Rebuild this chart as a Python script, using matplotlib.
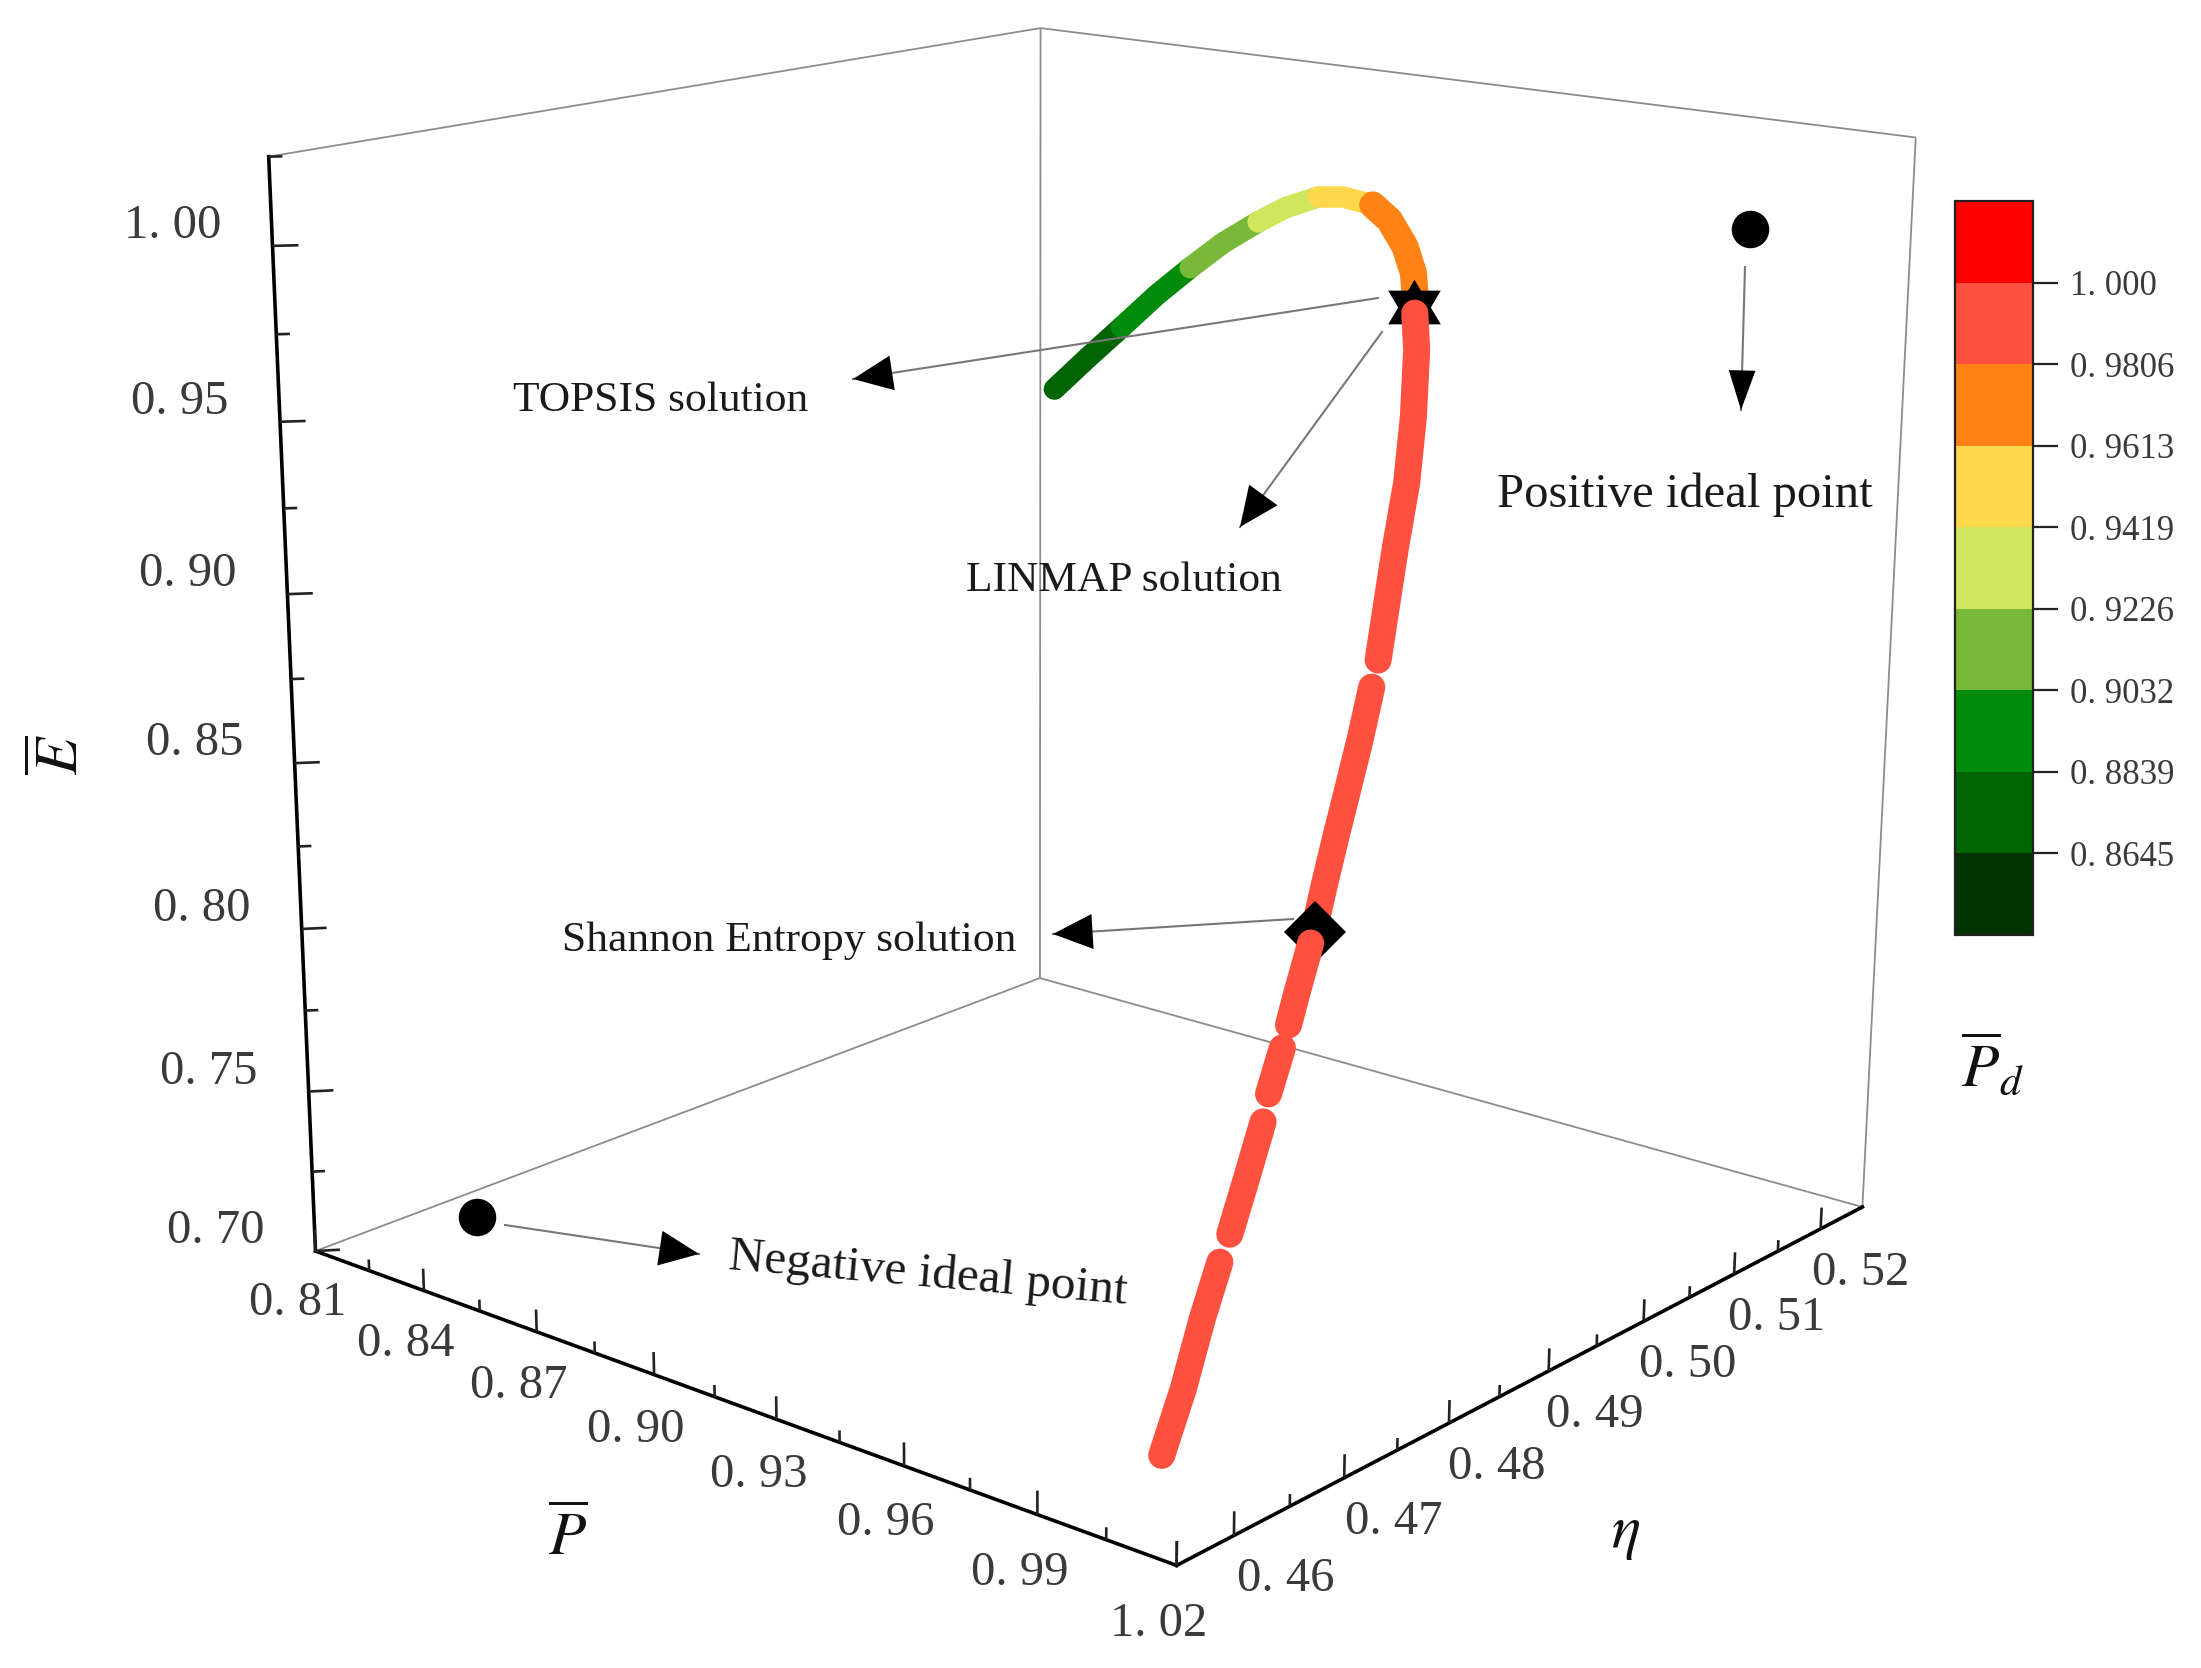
import numpy as np, matplotlib
matplotlib.use('Agg')
import matplotlib.pyplot as plt
from matplotlib.colors import ListedColormap, BoundaryNorm
from matplotlib.cm import ScalarMappable
from matplotlib.path import Path

# ---------- data ----------
P = [0.9057,0.9065,0.9074, 0.9074,0.9081,0.9090, 0.9090,0.9101,0.9120, 0.9120,0.9139,0.9168,
     0.9168,0.9203,0.9258, 0.9258,0.9305,0.9365,0.9412,0.9441,
     0.9466,0.9514,0.9585,0.9646,0.9691,0.9707,0.9738,0.9769,
     0.9783,0.9809,0.9832,0.9852,0.9871,0.9884,
     0.9891,0.9895,0.9905,0.9915, 0.9921,0.9932, 0.9942,0.9955,0.9965,
     0.9968,0.9977,0.9990,0.9998]
ETA = [0.4892,0.4920,0.4949, 0.4949,0.4980,0.5009, 0.5009,0.5037,0.5064, 0.5064,0.5085,0.5105,
       0.5105,0.5115,0.5122, 0.5122,0.5119,0.5109,0.5097,0.5086,
       0.5075,0.5056,0.5022,0.4989,0.4959,0.4949,0.4929,0.4909,
       0.4897,0.4875,0.4853,0.4835,0.4816,0.4803,
       0.4795,0.4790,0.4777,0.4765, 0.4757,0.4740, 0.4731,0.4711,0.4692,
       0.4682,0.4663,0.4641,0.4619]
E = [0.9543,0.9614,0.9685, 0.9685,0.9759,0.9821, 0.9821,0.9878,0.9926, 0.9926,0.9960,0.9983,
     0.9983,0.9983,0.9965, 0.9965,0.9930,0.9869,0.9809,0.9763,
     0.9717,0.9633,0.9479,0.9328,0.9182,0.9136,0.9030,0.8923,
     0.8861,0.8740,0.8618,0.8527,0.8412,0.8327,
     0.8275,0.8243,0.8163,0.8087, 0.8034,0.7929, 0.7865,0.7737,0.7608,
     0.7544,0.7416,0.7253,0.7102]
PD = [0.866,0.872,0.882, 0.885,0.893,0.902, 0.905,0.912,0.921, 0.924,0.931,0.940,
      0.943,0.950,0.960, 0.962,0.966,0.971,0.976,0.980,
      0.981,0.982,0.983,0.984,0.985,0.986,0.987,0.988,
      0.989,0.990,0.991,0.992,0.993,0.994,
      0.994,0.995,0.995,0.996, 0.996,0.997, 0.997,0.998,0.998,
      0.998,0.999,0.999,0.999]
RUN = [0]*3+[1]*3+[2]*3+[3]*3+[4]*3+[5]*5+[6]*8+[7]*6+[8]*4+[9]*2+[10]*3+[11]*4

POS_IDEAL = (1.0001, 0.5173, 1.0)
NEG_IDEAL = (0.8204, 0.4656, 0.70)
TOPSIS_LINMAP = (0.9456, 0.5079, 0.973)
SHANNON = (0.9888, 0.4800, 0.83)

P_TICKS = [0.81,0.84,0.87,0.90,0.93,0.96,0.99,1.02]
ETA_TICKS = [0.46,0.47,0.48,0.49,0.50,0.51,0.52]
E_TICKS = [0.70,0.75,0.80,0.85,0.90,0.95,1.00]
P_MINOR = [0.825,0.855,0.885,0.915,0.945,0.975,1.005]
ETA_MINOR = [0.465,0.475,0.485,0.495,0.505,0.515]
E_MINOR = [0.725,0.775,0.825,0.875,0.925,0.975,1.025]
P_LIM = (0.81,1.02); ETA_LIM = (0.455,0.525); E_LIM = (0.70,1.025)
PD_LEVELS = [0.8452,0.8645,0.8839,0.9032,0.9226,0.9419,0.9613,0.9806,1.000,1.0194]
PD_COLORS = ['#003300','#006400','#008c0a','#7ab83a','#d0e65c','#ffd84d','#ff8214','#ff5040','#ff0000']

W,H = 2201,1668
SERIF = 'Liberation Serif'
plt.rcParams['mathtext.fontset'] = 'stix'

# ---------- camera: fitted to the box corners of the picture ----------
cal=[(.81,.455,.70,316,1251),(1.02,.455,.70,1176,1566),(1.02,.525,.70,1862,1207),(.81,.525,.70,1040,978),
(.81,.455,1.025,268,156),(.81,.525,1.025,1040,28),(1.02,.525,1.025,1916,138),
(.81,.455,1.0,273,246),(.81,.455,.95,281,422),(.81,.455,.90,287,594),(.81,.455,.85,295,763),(.81,.455,.80,302,929),(.81,.455,.75,308,1092),
(.90,.455,.70,654,1375),(.96,.455,.70,903,1467),(.99,.455,.70,1038,1513),(1.02,.49,.70,1549.5,1370),(1.02,.47,.70,1344,1478),(1.02,.52,.70,1821,1229)]
A=[];b=[]
for X,Y,Z,u,v in cal:
    A.append([X,Y,Z,1,0,0,0,0,-u*X,-u*Y,-u*Z]);b.append(u)
    A.append([0,0,0,0,X,Y,Z,1,-v*X,-v*Y,-v*Z]);b.append(v)
s=np.linalg.lstsq(np.array(A,float),np.array(b,float),rcond=None)[0]
C=np.append(s,1).reshape(3,4)
sgn=np.sign(C[2]@[.9,.49,.85,1.0])
M=np.vstack([2/W*C[0]-C[2], C[2]-2/H*C[1], [0,0,0,-sgn], C[2]])

def pix(x,y,z):
    q=C@np.array([x,y,z,1.0])
    return q[0]/q[2],q[1]/q[2]

fig=plt.figure(figsize=(W/100,H/100),dpi=100,facecolor='white')
ax=fig.add_axes([0,0,1,1],projection='3d',computed_zorder=False)
ax.set_axis_off()
ax.patch.set_alpha(0)
ax.get_proj=lambda: M
ax.apply_aspect=lambda position=None: None
ax.viewLim.intervalx=(-1,1)
ax.viewLim.intervaly=(-1,1)

def seg(a,b,**kw):
    ax.plot([a[0],b[0]],[a[1],b[1]],[a[2],b[2]],**kw)

P0,P1=P_LIM;N0,N1=ETA_LIM;E0,E1=E_LIM
thin=dict(color='#8c8c8c',lw=1.3,zorder=1,solid_capstyle='butt')
for a,b_ in [((P0,N0,E0),(P0,N1,E0)),((P0,N1,E0),(P1,N1,E0)),((P0,N1,E0),(P0,N1,E1)),
             ((P1,N1,E0),(P1,N1,E1)),((P0,N0,E1),(P0,N1,E1)),((P0,N1,E1),(P1,N1,E1))]:
    seg(a,b_,**thin)
thick=dict(color='black',lw=2.6,zorder=2,solid_capstyle='projecting')
seg((P0,N0,E0),(P1,N0,E0),**thick)
seg((P1,N0,E0),(P1,N1,E0),**thick)
seg((P0,N0,E0),(P0,N0,E1),**thick)

tick=dict(color='#222222',lw=1.9,zorder=2,solid_capstyle='butt')
dz=0.0068; dzm=0.0035
for t in P_TICKS: seg((t,N0,E0),(t,N0,E0+dz),**tick)
for t in P_MINOR: seg((t,N0,E0),(t,N0,E0+dzm),**tick)
for t in ETA_TICKS+[N0]: seg((P1,t,E0),(P1,t,E0+dz),**tick)
for t in ETA_MINOR: seg((P1,t,E0),(P1,t,E0+dzm),**tick)
for t in E_TICKS: seg((P0,N0,t),(P0+0.0030,N0+0.00115,t),**tick)
for t in E_MINOR: seg((P0,N0,t),(P0+0.0016,N0+0.0006,t),**tick)

# ---------- curve ----------
cmap=ListedColormap(PD_COLORS); norm=BoundaryNorm(PD_LEVELS,cmap.N)
P_a,ETA_a,E_a,PD_a,RUN_a=map(np.array,(P,ETA,E,PD,RUN))
def draw_run(r,z):
    m=RUN_a==r
    ax.plot(P_a[m],ETA_a[m],E_a[m],color=cmap(norm(PD_a[m].mean())),lw=15.5 if r<5 else 19.5,
            solid_capstyle='round',solid_joinstyle='round',zorder=z)
hexagram=Path([(0,28),(-26.5,-17),(26.5,-17),(0,28),(0,-28),(26.5,17),(-26.5,17),(0,-28)],
              [Path.MOVETO,Path.LINETO,Path.LINETO,Path.CLOSEPOLY,Path.MOVETO,Path.LINETO,Path.LINETO,Path.CLOSEPOLY])
for r in range(6): draw_run(r,3)
ax.plot(*[[c] for c in TOPSIS_LINMAP],marker=hexagram,ms=40,color='black',mew=0,ls='none',zorder=4)
for r in (6,7): draw_run(r,5)
ax.plot(*[[c] for c in SHANNON],marker='D',ms=32,color='black',mew=0,ls='none',zorder=6)
for r in (8,9,10,11): draw_run(r,7)
for pt in (POS_IDEAL,NEG_IDEAL):
    ax.plot(*[[c] for c in pt],marker='o',ms=27,color='black',mew=0,ls='none',zorder=8)

# ---------- overlay in picture pixels for labels and arrows ----------
ov=fig.add_axes([0,0,1,1]); ov.set_xlim(0,W); ov.set_ylim(H,0); ov.axis('off'); ov.patch.set_alpha(0)
lab=dict(family=SERIF,color='#3a3a3a',fontsize=35,ha='center',va='center')
for t in E_TICKS:
    u,v=pix(P0,N0,t); ov.text(u-100,v-20,f'{t:.2f}'.replace('.','. '),**lab)
for t in P_TICKS:
    u,v=pix(t,N0,E0); ov.text(u-18,v+52+(t-.81)/.21*7,f'{t:.2f}'.replace('.','. '),**lab)
for t in ETA_TICKS:
    u,v=pix(P1,t,E0); ov.text(u+52-(t-.46)/.06*12,v+44,f'{t:.2f}'.replace('.','. '),**lab)

ARROWS=[(1378,298,853,379,.42),(1382,332,1240,527,.42),(1293,919,1053,934,.42),(1745,267,1741,410,.32),(505,1225,699,1254,.42)]
for (x0,y0,x1,y1,hw) in ARROWS:
    ov.plot([x0,x1],[y0,y1],color='#777777',lw=1.5,zorder=2)
    d=np.hypot(x1-x0,y1-y0)
    ov.annotate('',xy=(x1,y1),xytext=(x1+(x0-x1)*30/d,y1+(y0-y1)*30/d),
                arrowprops=dict(arrowstyle=f'-|>,head_length=0.95,head_width={hw}',mutation_scale=30,
                                fc='black',ec='black',lw=0,shrinkA=0,shrinkB=0),zorder=3)

txt=dict(family=SERIF,color='#1a1a1a',ha='center',va='center')
ov.text(661,401,'TOPSIS solution',fontsize=31.3,**txt)
ov.text(1124,581,'LINMAP solution',fontsize=31.3,**txt)
ov.text(789,941,'Shannon Entropy solution',fontsize=31.3,**txt)
ov.text(1685,495,'Positive ideal point',fontsize=35,**txt)
ov.text(928,1274,'Negative ideal point',rotation=-5,fontsize=35.5,**txt)

math=dict(color='#111111',fontsize=44,ha='center',va='center')
ov.text(62,755,r'$\overline{E}$',rotation=90,**math)
ov.text(568,1539,r'$\overline{P}$',**math)
ov.text(1626,1533,r'$\eta$',**math)
ov.text(1992,1066,r'$\overline{P}_{d}$',**math)

# ---------- colour bar ----------
cax=fig.add_axes([1955/W,1-935/H,78/W,(935-201)/H])
cb=fig.colorbar(ScalarMappable(norm=norm,cmap=cmap),cax=cax,ticks=PD_LEVELS[1:-1],spacing='uniform')
cb.ax.set_yticklabels(['0. 8645','0. 8839','0. 9032','0. 9226','0. 9419','0. 9613','0. 9806','1. 000'],
                      family=SERIF,fontsize=25,color='#3a3a3a')
cb.ax.tick_params(length=18,width=1.6,color='#222222',pad=9)
cb.ax.minorticks_off()
cb.outline.set_linewidth(1.6); cb.outline.set_edgecolor('#222222')

fig.savefig('out.png',dpi=100)
